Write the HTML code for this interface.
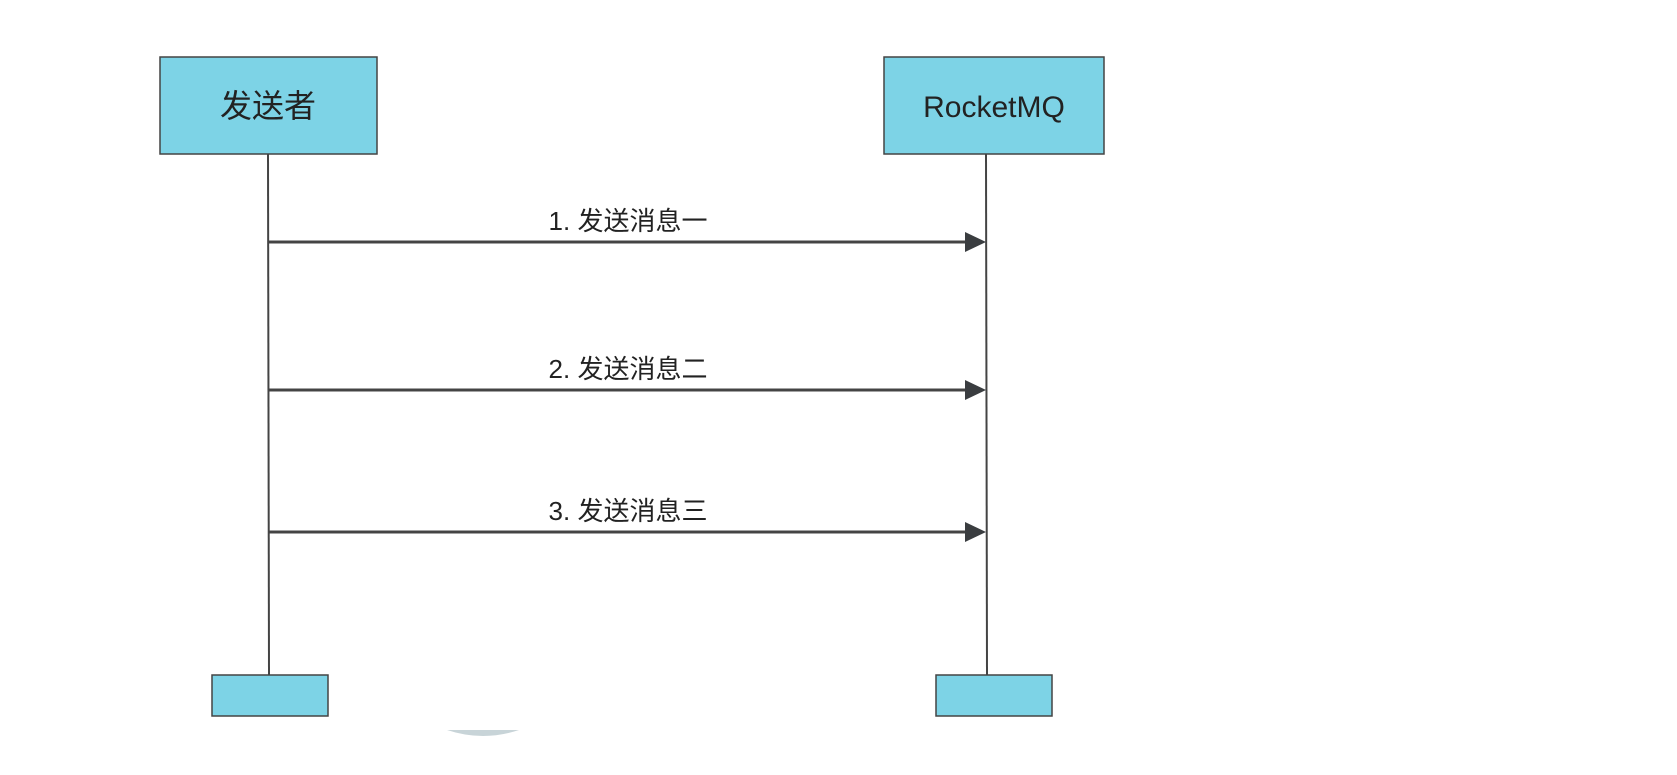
<!DOCTYPE html>
<html><head><meta charset="utf-8"><style>
html,body{margin:0;padding:0;background:#fff;}
body{width:1677px;height:775px;position:relative;overflow:hidden;font-family:"Liberation Sans","Noto Sans CJK SC",sans-serif;}
</style></head><body>
<svg width="1677" height="775" xmlns="http://www.w3.org/2000/svg" style="position:absolute;left:0;top:0">
<rect x="160" y="57" width="217" height="97" fill="#7dd3e6" stroke="#444" stroke-width="1.5"/>
<rect x="884" y="57" width="220" height="97" fill="#7dd3e6" stroke="#444" stroke-width="1.5"/>
<text x="268" y="117" font-size="32" text-anchor="middle" fill="#222" font-family="Liberation Sans, Noto Sans CJK SC, sans-serif">发送者</text>
<text x="994" y="117" font-size="30" text-anchor="middle" fill="#222" font-family="Liberation Sans, Noto Sans CJK SC, sans-serif">RocketMQ</text>
<line x1="268" y1="154" x2="269" y2="675" stroke="#444" stroke-width="2"/>
<line x1="986" y1="154" x2="987" y2="675" stroke="#444" stroke-width="2"/>
<rect x="212" y="675" width="116" height="41" fill="#7dd3e6" stroke="#444" stroke-width="1.5"/>
<rect x="936" y="675" width="116" height="41" fill="#7dd3e6" stroke="#444" stroke-width="1.5"/>
<g stroke="#444" stroke-width="3">
<line x1="268" y1="242" x2="968" y2="242"/>
<line x1="268" y1="390" x2="968" y2="390"/>
<line x1="268" y1="532" x2="968" y2="532"/>
</g>
<g fill="#3a3d40">
<polygon points="965,232 986,242 965,252"/>
<polygon points="965,380 986,390 965,400"/>
<polygon points="965,522 986,532 965,542"/>
</g>
<g font-size="26" fill="#222" text-anchor="middle" font-family="Liberation Sans, Noto Sans CJK SC, sans-serif">
<text x="628" y="230">1. 发送消息一</text>
<text x="628" y="378">2. 发送消息二</text>
<text x="628" y="520">3. 发送消息三</text>
</g>
<path d="M447,730 L519,730 Q483,742 447,730 Z" fill="#c8d4d8"/>
</svg>
</body></html>
